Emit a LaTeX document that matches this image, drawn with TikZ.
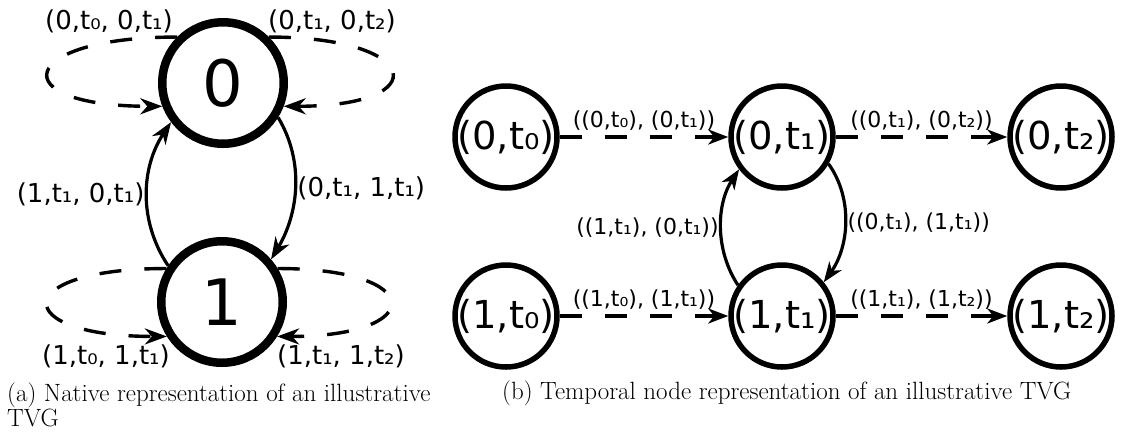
\documentclass[tikz,border=0pt]{standalone}
\usepackage{fontspec}
\newfontfamily\dv{DejaVu Sans}
\usetikzlibrary{arrows.meta}
\tikzset{
  nodeA/.style={circle, draw, fill=white, line width=8.5pt, minimum size=121.5pt, inner sep=0pt, font=\dv\fontsize{64}{64}\selectfont},
  nodeB/.style={circle, draw, fill=white, line width=5.5pt, minimum size=102pt, inner sep=0pt, font=\dv\fontsize{38.5}{38.5}\selectfont},
  labA/.style={font=\dv\fontsize{26}{26}\selectfont, inner sep=1pt},
  labB/.style={font=\dv\fontsize{22}{22}\selectfont, inner sep=1pt},
  arrA/.style={-{Stealth[length=22pt,width=16pt,inset=7pt]}},
  arrB/.style={-{Stealth[length=20pt,width=15pt,inset=6pt]}},
  edgeline/.style={line width=3.2pt},
  dashline/.style={line width=3.4pt, dash pattern=on 22pt off 23pt},
  caption/.style={font=\fontsize{25}{22}\selectfont, inner sep=0pt, align=left}
}
\begin{document}
\begin{tikzpicture}[x=1pt,y=1pt]
\useasboundingbox (0,0) rectangle (1123,-432);
% ---------- panel (a)
\node[nodeA] (n0) at (223,-83) {0};
\node[nodeA] (n1) at (222,-302) {1};
\draw[dashline, arrA] (n0.135) .. controls +(-161,0) and +(-161,0) .. (n0.201);
\draw[dashline, arrA] (n0.45) .. controls +(153,0) and +(153,0) .. (n0.339);
\draw[dashline, arrA] (n1.149) .. controls +(-158,0) and +(-158,0) .. (n1.212);
\draw[dashline, arrA] (n1.31) .. controls +(150,0) and +(150,0) .. (n1.328);
\draw[edgeline, arrA] (n1.146) .. controls +(-30,45) and +(-30,-45) .. node[labA, midway, left=0pt] (la1) {(1,t₁, 0,t₁)} (n0.217);
\draw[edgeline, arrA] (n0.328) .. controls +(27,-45) and +(27,45) .. node[labA, midway, right=0pt] (la2) {(0,t₁, 1,t₁)} (n1.41);
\node[labA] (la3) at (109,-21) {(0,t₀, 0,t₁)};
\node[labA] (la4) at (332,-21) {(0,t₁, 0,t₂)};
\node[labA] (la5) at (106,-356) {(1,t₀, 1,t₁)};
\node[labA] (la6) at (341,-356) {(1,t₁, 1,t₂)};
\node[caption, anchor=north west] (capa) at (7,-383) {(a) Native representation of an illustrative\\TVG};
% ---------- panel (b)
\node[nodeB] (b00) at (506,-137) {\makebox[0pt]{(0,t₀)}};
\node[nodeB] (b01) at (782,-137) {\makebox[0pt]{(0,t₁)}};
\node[nodeB] (b02) at (1061,-137) {\makebox[0pt]{(0,t₂)}};
\node[nodeB] (b10) at (506,-316) {\makebox[0pt]{(1,t₀)}};
\node[nodeB] (b11) at (782,-316) {\makebox[0pt]{(1,t₁)}};
\node[nodeB] (b12) at (1061,-316) {\makebox[0pt]{(1,t₂)}};
\draw[dashline, arrB] (b00) -- node[labB, midway, above=4pt] (lb1) {((0,t₀), (0,t₁))} (b01);
\draw[dashline, arrB] (b01) -- node[labB, midway, above=4pt] (lb2) {((0,t₁), (0,t₂))} (b02);
\draw[dashline, arrB] (b10) -- node[labB, midway, above=4pt] (lb3) {((1,t₀), (1,t₁))} (b11);
\draw[dashline, arrB] (b11) -- node[labB, midway, above=4pt] (lb4) {((1,t₁), (1,t₂))} (b12);
\draw[edgeline, arrB] (b11.145) .. controls +(-23,35) and +(-23,-35) .. node[labB, midway, left=0pt] (lb5) {((1,t₁), (0,t₁))} (b01.217);
\draw[edgeline, arrB] (b01.330) .. controls +(25,-35) and +(25,35) .. node[labB, midway, right=0pt] (lb6) {((0,t₁), (1,t₁))} (b11.39);
\node[caption, anchor=west] (capb) at (502,-393) {(b) Temporal node representation of an illustrative TVG};
\end{tikzpicture}
\end{document}
